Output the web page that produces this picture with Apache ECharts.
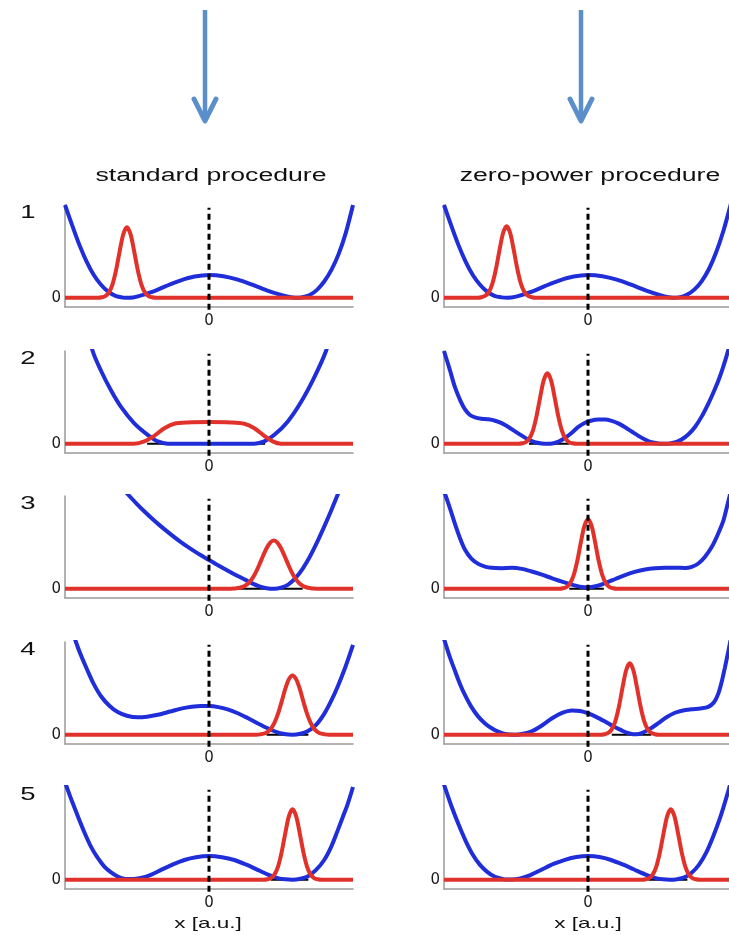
<!DOCTYPE html>
<html>
<head>
<meta charset="utf-8">
<script src="https://cdn.jsdelivr.net/npm/echarts@6/dist/echarts.min.js"></script>
<style>html,body{margin:0;padding:0;background:#fff;}#c{width:729px;height:935px;}</style>
</head>
<body>
<div id="c"></div>
<script>
// ---------- text ----------
const columnTitles = ['standard procedure', 'zero-power procedure'];
const rowLabels = ['1', '2', '3', '4', '5'];
const xTickLabels = ['0'];
const yTickLabels = ['0'];
const xAxisName = 'x [a.u.]';

// ---------- potentials (blue), [x, V] ----------
const potStd1 = [[-1.0,1.0],[-0.95,0.78],[-0.9,0.57],[-0.85,0.39],[-0.8,0.245],[-0.75,0.14],[-0.7,0.065],[-0.65,0.02],[-0.6,0.003],[-0.55,0.0],[-0.5,0.012],[-0.4,0.06],[-0.3,0.125],[-0.2,0.185],[-0.1,0.228],[0,0.245],[0.1,0.232],[0.2,0.195],[0.3,0.14],[0.4,0.08],[0.5,0.03],[0.55,0.01],[0.6,0.0],[0.65,0.006],[0.7,0.03],[0.75,0.085],[0.8,0.175],[0.85,0.3],[0.9,0.47],[0.95,0.7],[1.0,1.0]];
const potStd2 = [[-1,2.2],[-0.9,1.55],[-0.808,1.0],[-0.75,0.787],[-0.68,0.574],[-0.611,0.397],[-0.519,0.22],[-0.426,0.096],[-0.356,0.025],[-0.287,0.0],[-0.2,0],[-0.1,0],[0,0],[0.1,0],[0.2,0],[0.315,0],[0.384,0.025],[0.454,0.096],[0.546,0.238],[0.639,0.45],[0.731,0.716],[0.8125,1.0],[0.9,1.45],[1,2.1]];
const potStd3 = [[-0.65,1.17],[-0.6,1.08],[-0.553,1.0],[-0.5,0.913],[-0.45,0.835],[-0.4,0.763],[-0.35,0.694],[-0.3,0.629],[-0.25,0.567],[-0.2,0.508],[-0.15,0.454],[-0.1,0.403],[-0.05,0.355],[0,0.31],[0.05,0.265],[0.1,0.221],[0.15,0.178],[0.2,0.137],[0.25,0.098],[0.3,0.058],[0.35,0.025],[0.4,0.006],[0.454,0.0],[0.5,0.012],[0.55,0.045],[0.6,0.115],[0.65,0.215],[0.7,0.345],[0.75,0.5],[0.8,0.67],[0.85,0.85],[0.9,1.04],[0.95,1.25],[1.0,1.48]];
const potStd4 = [[-1.0,1.35],[-0.96,1.18],[-0.924,1.0],[-0.885,0.84],[-0.843,0.69],[-0.8,0.545],[-0.75,0.415],[-0.69,0.31],[-0.634,0.245],[-0.57,0.205],[-0.495,0.188],[-0.43,0.195],[-0.356,0.215],[-0.27,0.25],[-0.194,0.282],[-0.12,0.302],[-0.056,0.311],[0.0,0.31],[0.065,0.298],[0.13,0.273],[0.2,0.232],[0.269,0.18],[0.34,0.122],[0.407,0.07],[0.465,0.031],[0.523,0.007],[0.581,0.0],[0.635,0.01],[0.685,0.037],[0.74,0.1],[0.8,0.225],[0.85,0.37],[0.894,0.52],[0.94,0.7],[0.986,0.904],[1.0,0.97]];
const potStd5 = [[-1.0,1.05],[-0.988,1.0],[-0.95,0.84],[-0.912,0.69],[-0.865,0.51],[-0.819,0.355],[-0.775,0.24],[-0.727,0.142],[-0.68,0.08],[-0.634,0.035],[-0.6,0.015],[-0.565,0.007],[-0.52,0.008],[-0.472,0.018],[-0.4,0.055],[-0.333,0.106],[-0.25,0.165],[-0.171,0.213],[-0.09,0.243],[0.0,0.255],[0.09,0.243],[0.176,0.213],[0.26,0.162],[0.338,0.106],[0.41,0.055],[0.477,0.018],[0.53,0.004],[0.581,0.0],[0.635,0.01],[0.685,0.035],[0.74,0.1],[0.8,0.213],[0.85,0.36],[0.894,0.532],[0.93,0.68],[0.963,0.816],[1.0,1.0]];

const potZero1 = [[-1.0,1.0],[-0.95,0.78],[-0.9,0.57],[-0.85,0.39],[-0.8,0.245],[-0.75,0.14],[-0.7,0.065],[-0.65,0.02],[-0.6,0.004],[-0.56,0.0],[-0.5,0.012],[-0.4,0.06],[-0.3,0.125],[-0.2,0.185],[-0.1,0.228],[0,0.245],[0.1,0.232],[0.2,0.195],[0.3,0.14],[0.4,0.08],[0.5,0.028],[0.55,0.008],[0.59,0.0],[0.64,0.007],[0.69,0.035],[0.74,0.09],[0.79,0.18],[0.84,0.31],[0.89,0.49],[0.94,0.72],[0.99,1.0],[1.0,1.06]];
const potZero2 = [[-1,1.0],[-0.96,0.8],[-0.924,0.61],[-0.885,0.46],[-0.854,0.37],[-0.82,0.31],[-0.785,0.285],[-0.74,0.27],[-0.692,0.263],[-0.645,0.248],[-0.6,0.222],[-0.55,0.178],[-0.507,0.133],[-0.46,0.087],[-0.414,0.045],[-0.37,0.016],[-0.322,0.003],[-0.28,0.0],[-0.24,0.006],[-0.2,0.026],[-0.16,0.062],[-0.11,0.122],[-0.067,0.182],[-0.02,0.226],[0.026,0.25],[0.07,0.261],[0.118,0.262],[0.165,0.247],[0.21,0.22],[0.255,0.18],[0.303,0.132],[0.35,0.085],[0.396,0.045],[0.44,0.016],[0.488,0.003],[0.53,0.0],[0.57,0.003],[0.61,0.016],[0.65,0.045],[0.7,0.105],[0.743,0.18],[0.79,0.295],[0.835,0.43],[0.87,0.55],[0.905,0.68],[0.935,0.81],[0.963,0.95],[1.0,1.15]];
const potZero3 = [[-1.0,1.05],[-0.988,1.0],[-0.955,0.85],[-0.924,0.70],[-0.89,0.55],[-0.854,0.42],[-0.81,0.325],[-0.762,0.268],[-0.715,0.238],[-0.669,0.225],[-0.6,0.222],[-0.53,0.225],[-0.46,0.214],[-0.391,0.186],[-0.32,0.151],[-0.252,0.114],[-0.18,0.076],[-0.113,0.044],[-0.055,0.022],[0.0,0.015],[0.06,0.029],[0.118,0.06],[0.19,0.105],[0.257,0.148],[0.33,0.185],[0.396,0.208],[0.465,0.221],[0.535,0.226],[0.6,0.226],[0.674,0.224],[0.72,0.236],[0.766,0.272],[0.81,0.34],[0.859,0.45],[0.9,0.58],[0.94,0.734],[0.975,0.947],[1.0,1.1]];
const potZero4 = [[-1.0,1.03],[-0.993,1.0],[-0.96,0.84],[-0.924,0.69],[-0.89,0.55],[-0.854,0.426],[-0.81,0.3],[-0.762,0.195],[-0.715,0.122],[-0.669,0.07],[-0.62,0.03],[-0.576,0.007],[-0.507,0.0],[-0.45,0.01],[-0.391,0.037],[-0.32,0.1],[-0.252,0.175],[-0.18,0.235],[-0.113,0.262],[-0.055,0.256],[0.002,0.23],[0.06,0.19],[0.118,0.142],[0.175,0.092],[0.234,0.047],[0.27,0.022],[0.303,0.008],[0.335,0.006],[0.373,0.018],[0.43,0.063],[0.488,0.124],[0.545,0.188],[0.604,0.237],[0.66,0.262],[0.72,0.274],[0.78,0.283],[0.835,0.3],[0.875,0.35],[0.905,0.443],[0.93,0.58],[0.951,0.727],[0.975,0.904],[1.0,1.1]];
const potZero5 = [[-1.0,1.03],[-0.993,0.993],[-0.95,0.8],[-0.9,0.6],[-0.85,0.42],[-0.8,0.27],[-0.75,0.16],[-0.7,0.085],[-0.65,0.035],[-0.6,0.01],[-0.576,0.003],[-0.53,0.003],[-0.47,0.015],[-0.4,0.05],[-0.32,0.11],[-0.24,0.17],[-0.16,0.215],[-0.08,0.245],[0.0,0.255],[0.08,0.245],[0.16,0.213],[0.24,0.165],[0.32,0.11],[0.4,0.055],[0.47,0.018],[0.52,0.004],[0.569,0.0],[0.62,0.006],[0.67,0.025],[0.72,0.075],[0.77,0.16],[0.82,0.29],[0.87,0.47],[0.92,0.68],[0.975,0.96],[1.0,1.1]];

// ---------- wave packets (red), [x, |psi|^2] ----------
const wavStd1 = [[-1,0],[-0.77,0],[-0.745,0.005],[-0.72,0.018],[-0.695,0.058],[-0.67,0.145],[-0.645,0.3],[-0.62,0.503],[-0.595,0.686],[-0.57,0.76],[-0.545,0.686],[-0.52,0.503],[-0.495,0.3],[-0.47,0.145],[-0.445,0.058],[-0.42,0.018],[-0.395,0.005],[-0.37,0],[1,0]];
const wavStd2 = [[-1,0],[-0.52,0],[-0.449,0.025],[-0.38,0.085],[-0.31,0.167],[-0.241,0.216],[-0.148,0.23],[0.0,0.234],[0.153,0.23],[0.245,0.216],[0.315,0.167],[0.384,0.085],[0.442,0.025],[0.5,0],[1,0]];
const wavStd3 = [[-1,0],[0.15,0],[0.175,0.003],[0.2,0.007],[0.225,0.016],[0.25,0.033],[0.275,0.062],[0.3,0.11],[0.325,0.176],[0.35,0.261],[0.375,0.353],[0.4,0.437],[0.425,0.498],[0.45,0.52],[0.475,0.498],[0.5,0.437],[0.525,0.353],[0.55,0.261],[0.575,0.176],[0.6,0.11],[0.625,0.062],[0.65,0.033],[0.675,0.016],[0.7,0.007],[0.725,0.003],[0.75,0],[1,0]];
const wavStd4 = [[-1,0],[0.33,0],[0.355,0.004],[0.38,0.011],[0.405,0.028],[0.43,0.065],[0.455,0.13],[0.48,0.23],[0.505,0.36],[0.53,0.496],[0.555,0.6],[0.58,0.64],[0.605,0.6],[0.63,0.496],[0.655,0.36],[0.68,0.23],[0.705,0.13],[0.73,0.065],[0.755,0.028],[0.78,0.011],[0.805,0.004],[0.83,0],[1,0]];
const wavStd5 = [[-1,0],[0.38,0],[0.405,0.005],[0.43,0.018],[0.455,0.058],[0.48,0.145],[0.505,0.3],[0.53,0.503],[0.555,0.686],[0.58,0.76],[0.605,0.686],[0.63,0.503],[0.655,0.3],[0.68,0.145],[0.705,0.058],[0.73,0.018],[0.755,0.005],[0.78,0],[1,0]];

const wavZero1 = [[-1,0],[-0.765,0],[-0.74,0.005],[-0.715,0.019],[-0.69,0.058],[-0.665,0.147],[-0.64,0.304],[-0.615,0.51],[-0.59,0.695],[-0.565,0.77],[-0.54,0.695],[-0.515,0.51],[-0.49,0.304],[-0.465,0.147],[-0.44,0.058],[-0.415,0.019],[-0.39,0.005],[-0.365,0],[1,0]];
const wavZero2 = [[-1,0],[-0.482,0],[-0.457,0.005],[-0.432,0.018],[-0.407,0.058],[-0.382,0.145],[-0.357,0.3],[-0.332,0.503],[-0.307,0.686],[-0.282,0.76],[-0.257,0.686],[-0.232,0.503],[-0.207,0.3],[-0.182,0.145],[-0.157,0.058],[-0.132,0.018],[-0.107,0.005],[-0.082,0],[1,0]];
const wavZero3 = [[-1,0],[-0.2,0],[-0.175,0.005],[-0.15,0.018],[-0.125,0.057],[-0.1,0.143],[-0.075,0.296],[-0.05,0.497],[-0.025,0.677],[0,0.75],[0.025,0.677],[0.05,0.497],[0.075,0.296],[0.1,0.143],[0.125,0.057],[0.15,0.018],[0.175,0.005],[0.2,0],[1,0]];
const wavZero4 = [[-1,0],[0.09,0],[0.115,0.005],[0.14,0.019],[0.165,0.058],[0.19,0.147],[0.215,0.304],[0.24,0.51],[0.265,0.695],[0.29,0.77],[0.315,0.695],[0.34,0.51],[0.365,0.304],[0.39,0.147],[0.415,0.058],[0.44,0.019],[0.465,0.005],[0.49,0],[1,0]];
const wavZero5 = [[-1,0],[0.375,0],[0.4,0.005],[0.425,0.018],[0.45,0.058],[0.475,0.145],[0.5,0.3],[0.525,0.503],[0.55,0.686],[0.575,0.76],[0.6,0.686],[0.625,0.503],[0.65,0.3],[0.675,0.145],[0.7,0.058],[0.725,0.018],[0.75,0.005],[0.775,0],[1,0]];

// ---------- energy-level segments (black, at zero) [xStart, xEnd] ----------
const levelStd = [null, [-0.43, 0.39], [0.17, 0.65], [0.40, 0.69], [0.43, 0.69]];
const levelZero = [null, [-0.41, -0.13], [-0.13, 0.11], [0.165, 0.44], [0.42, 0.69]];

// ---------- centre marker (dashed, at x = 0) ----------
const centreX = 0;
const centreYRange = [-0.13, 0.97];

const potentials = [[potStd1, potStd2, potStd3, potStd4, potStd5], [potZero1, potZero2, potZero3, potZero4, potZero5]];
const packets = [[wavStd1, wavStd2, wavStd3, wavStd4, wavStd5], [wavZero1, wavZero2, wavZero3, wavZero4, wavZero5]];
const levels = [levelStd, levelZero];

// ---------- layout ----------
const zeroLines = [298, 444, 589, 735, 880];
const colLeft = [65, 444];
const colCentre = [208, 588];
const plotW = 288, plotAbove = 93, plotBelow = 9;
const BLUE = '#1f2ed8', RED = '#e0322b', AXIS = '#9a9a9a', ARROW = '#5b8fcb';
const FONT = '"Liberation Sans", Arial, sans-serif';
const TICKFONT = '"DejaVu Sans", sans-serif';

const grid = [], xAxis = [], yAxis = [], series = [];
for (let r = 0; r < 5; r++) {
  for (let c = 0; c < 2; c++) {
    const i = r * 2 + c;
    grid.push({ left: colLeft[c], top: zeroLines[r] - plotAbove, width: plotW, height: plotAbove + plotBelow, outerBoundsMode: 'none', containLabel: false });
    xAxis.push({
      gridIndex: i, type: 'value', min: -1, max: 1, interval: 0.5,
      axisLine: { onZero: false, lineStyle: { color: AXIS, width: 1.5 } },
      axisTick: { show: false }, splitLine: { show: false },
      axisLabel: { customValues: [0], margin: 7, color: '#1a1a1a', fontSize: 15, fontFamily: TICKFONT,
        formatter: v => (Math.abs(v) < 1e-9 ? xTickLabels[0] : '') }
    });
    yAxis.push({
      gridIndex: i, type: 'value', min: -0.1, max: 1, interval: 0.1,
      axisLine: { show: true, onZero: false, lineStyle: { color: AXIS, width: 1.5 } },
      axisTick: { show: false }, splitLine: { show: false },
      axisLabel: { customValues: [0], margin: 4, color: '#1a1a1a', fontSize: 15, fontFamily: TICKFONT,
        formatter: v => (Math.abs(v) < 1e-9 ? yTickLabels[0] : '') }
    });
    const lv = levels[c][r];
    if (lv) {
      series.push({ type: 'line', xAxisIndex: i, yAxisIndex: i, data: [[lv[0], 0], [lv[1], 0]],
        symbol: 'none', lineStyle: { color: '#000', width: 2 }, z: 1, silent: true });
    }
    series.push({ type: 'line', xAxisIndex: i, yAxisIndex: i, data: potentials[c][r], smooth: 0.3,
      symbol: 'none', lineStyle: { color: BLUE, width: 4 }, z: 2, silent: true });
    series.push({ type: 'line', xAxisIndex: i, yAxisIndex: i, data: packets[c][r], smooth: 0.3,
      symbol: 'none', lineStyle: { color: RED, width: 4 }, z: 3, silent: true });
    series.push({ type: 'line', xAxisIndex: i, yAxisIndex: i, data: [[centreX, centreYRange[0]], [centreX, centreYRange[1]]],
      clip: false, symbol: 'none', lineStyle: { color: '#000', width: 3, type: [6, 4] }, z: 4, silent: true });
  }
}

const graphic = [];
// arrows
[205, 581].forEach(x => {
  graphic.push({ type: 'line', shape: { x1: x, y1: 10, x2: x, y2: 118 }, style: { stroke: ARROW, lineWidth: 4.5 }, silent: true });
  graphic.push({ type: 'polyline', shape: { points: [[x - 11, 99], [x, 121], [x + 11, 99]] },
    style: { stroke: ARROW, lineWidth: 5, fill: null, lineJoin: 'round', lineCap: 'round' }, silent: true });
});
// column titles
[[211, columnTitles[0]], [590, columnTitles[1]]].forEach(([x, t]) => {
  graphic.push({ type: 'text', x: x, y: 176, scaleX: 1.48, silent: true,
    style: { text: t, font: '18px ' + FONT, fill: '#111', textAlign: 'center', textVerticalAlign: 'middle', align: 'center', verticalAlign: 'middle' } });
});
// row numbers
rowLabels.forEach((t, r) => {
  graphic.push({ type: 'text', x: 28, y: zeroLines[r] - 85, scaleX: 1.45, silent: true,
    style: { text: t, font: '19px ' + FONT, fill: '#111', textAlign: 'center', textVerticalAlign: 'middle', align: 'center', verticalAlign: 'middle' } });
});
// x axis names under bottom row
colCentre.forEach(x => {
  graphic.push({ type: 'text', x: x, y: 924, scaleX: 1.5, silent: true,
    style: { text: xAxisName, font: '15px ' + FONT, fill: '#111', textAlign: 'center', textVerticalAlign: 'middle', align: 'center', verticalAlign: 'middle' } });
});

const chart = echarts.init(document.getElementById('c'), null, { renderer: 'canvas' });
chart.setOption({
  backgroundColor: '#ffffff',
  animation: false,
  grid, xAxis, yAxis, series, graphic
});
</script>
</body>
</html>
